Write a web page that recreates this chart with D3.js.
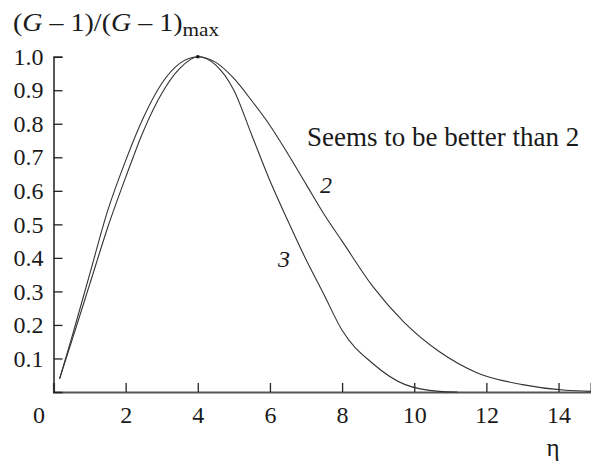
<!DOCTYPE html>
<html>
<head>
<meta charset="utf-8">
<script src="https://cdn.jsdelivr.net/npm/d3@7"></script>
<style>
  html, body { margin: 0; padding: 0; background: #fff; }
  svg { display: block; }
  text { font-family: "Liberation Serif", "Times New Roman", serif; fill: #1a1a1a; }
</style>
</head>
<body>
<svg id="chart" width="591" height="462"></svg>
<script>
// Normalised gain profiles (G-1)/(G-1)max versus η
const eta2 = [0.17, 0.5, 1.0, 1.5, 2.0, 2.5, 3.0, 3.5, 4.0, 4.5, 5.0, 5.5, 6.0, 6.5, 7.0, 7.5, 8.0, 8.85, 9.7, 10.7, 11.75, 13.0, 14.2, 14.9];
const gain2 = [0.04, 0.16, 0.35, 0.54, 0.69, 0.82, 0.92, 0.98, 1.0, 0.983, 0.935, 0.868, 0.795, 0.71, 0.62, 0.53, 0.45, 0.315, 0.21, 0.12, 0.057, 0.022, 0.005, 0.002];

const eta3 = [0.17, 0.5, 1.0, 1.5, 2.0, 2.5, 3.0, 3.5, 4.0, 4.5, 5.0, 5.5, 6.0, 6.5, 7.0, 7.5, 8.0, 8.85, 9.75, 10.7, 11.2];
const gain3 = [0.04, 0.15, 0.32, 0.49, 0.64, 0.78, 0.89, 0.965, 1.0, 0.975, 0.90, 0.765, 0.63, 0.51, 0.395, 0.29, 0.184, 0.085, 0.022, 0.002, 0.0];

const xTicks = [0, 2, 4, 6, 8, 10, 12, 14];
const yTicks = [0.1, 0.2, 0.3, 0.4, 0.5, 0.6, 0.7, 0.8, 0.9, 1.0];
const curveLabels = [{ text: "2", eta: 7.39, g: 0.593 }, { text: "3", eta: 6.22, g: 0.374 }];
const note = "Seems to be better than 2";

const svg = d3.select("#chart");
const x = d3.scaleLinear().domain([0, 14.9]).range([53.5, 591]);
const y = d3.scaleLinear().domain([0, 1]).range([392, 56.7]);

// x axis: ticks point up into the plot
const xAxis = svg.append("g")
  .attr("transform", `translate(0,${y(0)})`)
  .call(d3.axisBottom(x).tickValues(xTicks).tickSize(-9).tickPadding(16).tickFormat(d3.format("d")));
xAxis.select(".domain").attr("stroke", "#555").attr("stroke-width", 2.2);
xAxis.selectAll(".tick line").attr("stroke", "#222").attr("stroke-width", 1.3);
xAxis.selectAll(".tick").filter(d => d === 0).select("line").remove();
xAxis.selectAll(".tick text")
  .attr("font-size", 24).attr("font-family", "Liberation Serif").attr("fill", "#1a1a1a")
  .attr("y", 0).attr("dy", 31)
  .attr("dx", d => d === 0 ? -15 : 0);

// y axis: ticks point right into the plot
const yAxis = svg.append("g")
  .attr("transform", `translate(${x(0)},0)`)
  .call(d3.axisLeft(y).tickValues(yTicks).tickSize(-9).tickPadding(10).tickFormat(d3.format(".1f")));
yAxis.select(".domain").attr("stroke", "#222").attr("stroke-width", 1.5);
yAxis.selectAll(".tick line").attr("stroke", "#222").attr("stroke-width", 1.3);
yAxis.selectAll(".tick text")
  .attr("font-size", 24).attr("font-family", "Liberation Serif").attr("fill", "#1a1a1a");

// curves
const line = d3.line().x(d => x(d[0])).y(d => y(d[1])).curve(d3.curveMonotoneX);
const series = [d3.zip(eta2, gain2), d3.zip(eta3, gain3)];
svg.append("g").selectAll("path").data(series).join("path")
  .attr("d", line)
  .attr("fill", "none")
  .attr("stroke", "#333")
  .attr("stroke-width", 1.1);

// small marker at the common maximum
svg.append("rect")
  .attr("x", x(4) - 1.5).attr("y", y(1) - 1.5)
  .attr("width", 3).attr("height", 3).attr("fill", "#111");

// curve numbers
svg.append("g").selectAll("text").data(curveLabels).join("text")
  .attr("x", d => x(d.eta)).attr("y", d => y(d.g))
  .attr("font-size", 24).attr("font-style", "italic")
  .text(d => d.text);

// annotation
svg.append("text")
  .attr("x", 307).attr("y", 146)
  .attr("font-size", 27)
  .text(note);

// y axis title
const title = svg.append("text")
  .attr("transform", "translate(13,31) scale(1.12,1)")
  .attr("font-size", 25);
title.append("tspan").text("(");
title.append("tspan").attr("font-style", "italic").text("G");
title.append("tspan").text(" \u2013 1)/(");
title.append("tspan").attr("font-style", "italic").text("G");
title.append("tspan").text(" \u2013 1)");
title.append("tspan").attr("font-size", 19).attr("dy", 5).text("max");

// x axis title
svg.append("text")
  .attr("x", 553).attr("y", 456)
  .attr("text-anchor", "middle")
  .attr("font-size", 25)
  .text("\u03B7");
</script>
</body>
</html>
